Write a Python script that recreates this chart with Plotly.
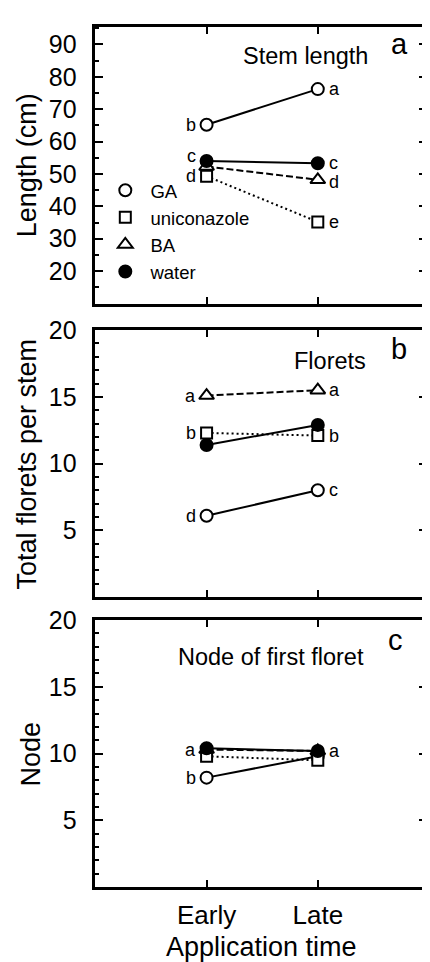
import plotly.graph_objects as go

# ---------------- data ----------------
times = ["Early", "Late"]
series = ["GA", "uniconazole", "BA", "water"]

length_GA = [65.2, 76.2]
length_uni = [49.3, 35.2]
length_BA = [52.3, 48.2]
length_water = [54.0, 53.3]

florets_GA = [6.1, 8.0]
florets_uni = [12.3, 12.1]
florets_BA = [15.1, 15.5]
florets_water = [11.4, 12.9]

node_GA = [8.2, 9.8]
node_uni = [9.8, 9.5]
node_BA = [10.3, 10.2]
node_water = [10.4, 10.2]

letters_length = {"GA": ["b", "a"], "uniconazole": ["d", "e"], "BA": [None, "d"], "water": ["c", "c"]}
letters_florets = {"GA": ["d", "c"], "uniconazole": ["b", "b"], "BA": ["a", "a"], "water": [None, None]}
letters_node = {"GA": ["b", None], "uniconazole": [None, None], "BA": ["a", "a"], "water": [None, None]}

panel_titles = ["Stem length", "Florets", "Node of first floret"]
panel_letters = ["a", "b", "c"]
y_titles = ["Length (cm)", "Total florets per stem", "Node"]
x_title = "Application time"

panels = [
    {"GA": length_GA, "uniconazole": length_uni, "BA": length_BA, "water": length_water},
    {"GA": florets_GA, "uniconazole": florets_uni, "BA": florets_BA, "water": florets_water},
    {"GA": node_GA, "uniconazole": node_uni, "BA": node_BA, "water": node_water},
]
letters = [letters_length, letters_florets, letters_node]

# ---------------- style ----------------
FONT = "Liberation Sans, Arial, Helvetica, sans-serif"
OFF = 8                      # page body margin
W, H = 430 - OFF, 962 - OFF  # figure size so the page fills the window


def px(x):
    return (x - OFF) / W


def py(y):
    return 1 - (y - OFF) / H


styles = {
    "GA": dict(symbol="circle", fill="white", dash="solid", size=12),
    "uniconazole": dict(symbol="square", fill="white", dash="2px,3px", size=11),
    "BA": dict(symbol="triangle-up", fill="white", dash="7px,3px", size=13),
    "water": dict(symbol="circle", fill="black", dash="solid", size=12),
}
# screen geometry of the three panels (top, bottom)
ypix = [(13, 294), (320.7, 591.7), (615, 886)]
yranges = [[9.9, 95.4], [0, 20], [0, 20]]
ytickvals = [[20, 30, 40, 50, 60, 70, 80, 90], [5, 10, 15, 20], [5, 10, 15, 20]]
yminor = [5, 1, 1]
x_left = 96
title_pos = [(308, 43), (332, 352), (273, 652)]
letter_pos = [(402, 30), (402, 340), (398, 635)]
ytitle_x = [28, 27, 31]

fig = go.Figure()
layout = dict(
    width=W, height=H,
    margin=dict(l=0, r=0, t=0, b=0),
    paper_bgcolor="white", plot_bgcolor="white",
    font=dict(family=FONT, color="black", size=20),
    showlegend=True,
    legend=dict(x=px(106), y=py(160), xanchor="left", yanchor="top",
                bgcolor="rgba(0,0,0,0)", font=dict(size=18.5, family=FONT),
                tracegroupgap=0, itemsizing="trace"),
)
annotations = []

for i, data in enumerate(panels):
    k = "" if i == 0 else str(i + 1)
    xa, ya = "x" + k, "y" + k
    top, bot = ypix[i]
    layout["xaxis" + k] = dict(
        domain=[px(x_left), 1], range=[-1, 1.982], anchor=ya,
        type="category", categoryorder="array", categoryarray=times,
        showline=True, linewidth=2.5, linecolor="black", mirror="ticks",
        ticks="inside", ticklen=7, tickwidth=2, tickcolor="black",
        showticklabels=(i == 2), tickfont=dict(size=26, family=FONT),
        ticklabelstandoff=3, showgrid=False, zeroline=False, fixedrange=True,
    )
    layout["yaxis" + k] = dict(
        domain=[py(bot), py(top)], range=yranges[i], anchor=xa,
        tickvals=ytickvals[i], ticks="inside", ticklen=8, tickwidth=2, tickcolor="black",
        minor=dict(dtick=yminor[i], ticks="inside", ticklen=4, tickwidth=2, tickcolor="black", showgrid=False),
        showline=True, linewidth=2.5, linecolor="black", mirror="ticks",
        tickfont=dict(size=25, family=FONT), ticklabelstandoff=11,
        showgrid=False, zeroline=False, fixedrange=True,
    )
    for s in series:
        st = styles[s]
        fig.add_trace(go.Scatter(
            x=times, y=data[s], xaxis=xa, yaxis=ya, mode="lines+markers",
            line=dict(color="black", width=2, dash=st["dash"]),
            marker=dict(symbol=st["symbol"], size=st["size"], color=st["fill"],
                        line=dict(color="black", width=2)),
            showlegend=False, cliponaxis=False, hoverinfo="skip",
        ))
        for j, t in enumerate(times):
            lt = letters[i][s][j]
            if lt:
                yshift = 0
                if i == 0 and s == "water" and j == 0:
                    yshift = 5
                if i == 0 and s == "BA" and j == 1:
                    yshift = -2
                annotations.append(dict(
                    x=t, y=data[s][j], xref=xa, yref=ya, text=lt, showarrow=False,
                    xanchor="right" if j == 0 else "left",
                    xshift=-9 if j == 0 else 9, yshift=yshift,
                    font=dict(size=18, family=FONT),
                ))
    # panel heading and letter
    tx, ty = title_pos[i]
    annotations.append(dict(x=px(tx), y=py(ty), xref="paper", yref="paper",
                            text=panel_titles[i], showarrow=False,
                            xanchor="center", yanchor="middle", font=dict(size=23.5, family=FONT)))
    lx, ly = letter_pos[i]
    annotations.append(dict(x=px(lx), y=py(ly), xref="paper", yref="paper",
                            text=panel_letters[i], showarrow=False,
                            xanchor="center", yanchor="middle", font=dict(size=29, family=FONT)))
    # y-axis title
    annotations.append(dict(x=px(ytitle_x[i]), y=py((top + bot) / 2), xref="paper", yref="paper",
                            text=y_titles[i], showarrow=False, textangle=-90,
                            xanchor="center", yanchor="middle", font=dict(size=27, family=FONT)))

# x-axis title
annotations.append(dict(x=px(263), y=py(947), xref="paper", yref="paper",
                        text=x_title, showarrow=False, xanchor="center", yanchor="middle",
                        font=dict(size=27, family=FONT)))

# legend entries (marker only) for panel a
for s in series:
    st = styles[s]
    fig.add_trace(go.Scatter(
        x=[None], y=[None], xaxis="x", yaxis="y", mode="markers", name="\u00a0" + s,
        marker=dict(symbol=st["symbol"], size=st["size"], color=st["fill"],
                    line=dict(color="black", width=2)),
        showlegend=True,
    ))

layout["annotations"] = annotations
fig.update_layout(**layout)
fig.write_html("out.html")
